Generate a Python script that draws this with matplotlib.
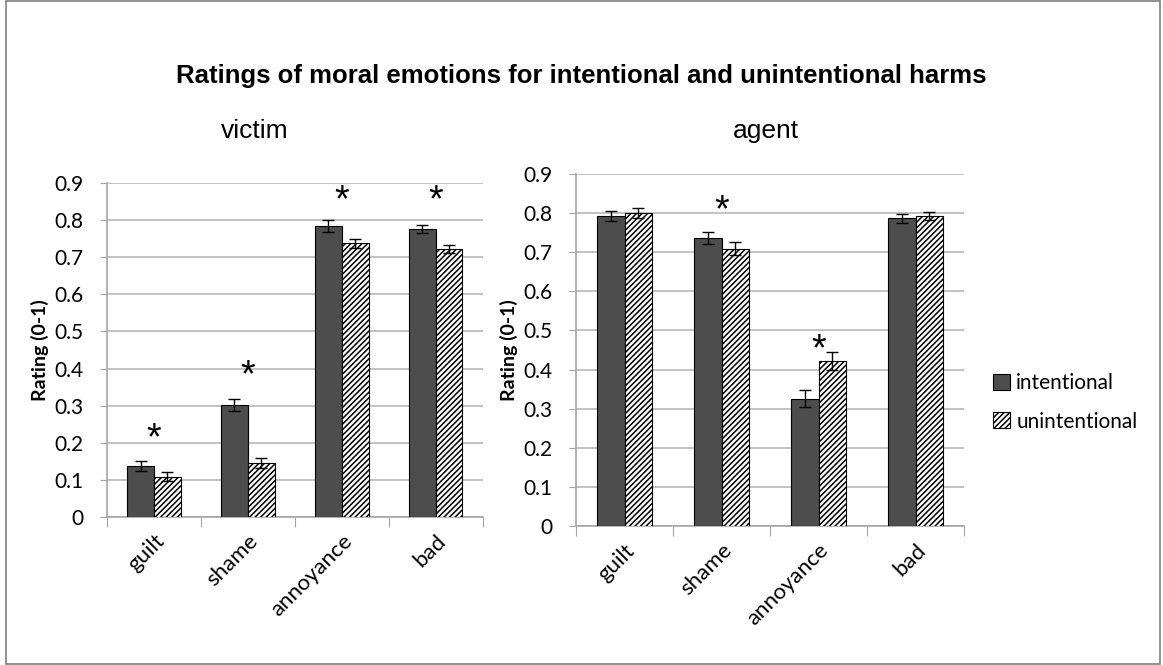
import matplotlib.pyplot as plt
import numpy as np
from matplotlib.patches import Rectangle

categories = ['guilt', 'shame', 'annoyance', 'bad']
series = ['intentional', 'unintentional']

victim_int = [0.138, 0.302, 0.784, 0.776]
victim_unint = [0.109, 0.146, 0.737, 0.722]
victim_int_err = [0.013, 0.017, 0.015, 0.012]
victim_unint_err = [0.012, 0.014, 0.013, 0.012]
victim_star = [0.23, 0.40, 0.87, 0.87]

agent_int = [0.792, 0.737, 0.326, 0.786]
agent_unint = [0.800, 0.709, 0.422, 0.793]
agent_int_err = [0.013, 0.015, 0.022, 0.012]
agent_unint_err = [0.013, 0.017, 0.023, 0.010]
agent_star = [None, 0.825, 0.47, None]

plt.rcParams['font.family'] = ['Lato', 'DejaVu Sans']
plt.rcParams['hatch.linewidth'] = 1.1

fig = plt.figure(figsize=(11.63, 6.65), dpi=100)
fig.patches.append(Rectangle((0.005, 0.002), 0.992, 0.996, transform=fig.transFigure,
                             fill=False, edgecolor='#7f7f7f', lw=1.2))

ax_v = fig.add_axes([0.092, 0.2226, 0.323, 0.5023])
ax_a = fig.add_axes([0.4953, 0.2086, 0.3336, 0.530])

w = 0.285
x = np.arange(len(categories))


def draw(ax, vi, vu, ei, eu, stars):
    b1 = ax.bar(x - w / 2, vi, w, color='#4d4d4d', edgecolor='black', lw=0.8, zorder=3,
                label=series[0])
    b2 = ax.bar(x + w / 2, vu, w, color='white', edgecolor='black', hatch='//////', lw=0.8,
                zorder=3, label=series[1])
    ax.errorbar(x - w / 2, vi, yerr=ei, fmt='none', ecolor='black', elinewidth=1,
                capsize=4, capthick=1, zorder=4)
    ax.errorbar(x + w / 2, vu, yerr=eu, fmt='none', ecolor='black', elinewidth=1,
                capsize=4, capthick=1, zorder=4)
    # significance markers
    for xi, s in zip(x, stars):
        if s is not None:
            ax.text(xi, s, '*', ha='center', va='center', fontsize=27,
                    family='Liberation Sans', zorder=5)
    ax.set_ylim(0, 0.9)
    ax.set_xlim(-0.5, len(categories) - 0.5)
    ax.set_yticks(np.arange(0, 0.91, 0.1))
    ax.set_yticklabels(['0'] + ['%.1f' % v for v in np.arange(0.1, 0.91, 0.1)], fontsize=15)
    ax.yaxis.grid(True, color='#bdbdbd', lw=1.3, zorder=0)
    ax.set_axisbelow(True)
    for sp in ['top', 'right']:
        ax.spines[sp].set_visible(False)
    for sp in ['left', 'bottom']:
        ax.spines[sp].set_color('#a6a6a6')
        ax.spines[sp].set_linewidth(1.2)
    ax.tick_params(axis='y', length=5, color='#a6a6a6', pad=12)
    ax.set_xticks(np.arange(-0.5, len(categories), 1.0))
    ax.set_xticklabels([])
    ax.tick_params(axis='x', length=7, color='#a6a6a6')
    ax.set_xticks(x, minor=True)
    ax.set_xticklabels(categories, minor=True, rotation=45, ha='right',
                       rotation_mode='anchor', fontsize=16)
    ax.tick_params(axis='x', which='minor', length=0, pad=10)
    ax.set_ylabel('Rating (0-1)', fontsize=14, fontweight='bold', labelpad=4)
    return b1, b2


draw(ax_v, victim_int, victim_unint, victim_int_err, victim_unint_err,
     [s - 0.02 for s in victim_star])
b1, b2 = draw(ax_a, agent_int, agent_unint, agent_int_err, agent_unint_err,
              [s - 0.02 if s is not None else None for s in agent_star])

fig.text(0.5, 0.885, 'Ratings of moral emotions for intentional and unintentional harms',
         ha='center', va='center', fontsize=18.5, fontweight='bold',
         family='Liberation Sans')
fig.text(255 / 1163, 1 - 131 / 665, 'victim', ha='center', va='center', fontsize=19,
         family='Liberation Sans')
fig.text(766 / 1163, 1 - 131 / 665, 'agent', ha='center', va='center', fontsize=19,
         family='Liberation Sans')

fig.legend([b1, b2], series, loc='center left', bbox_to_anchor=(0.838, 0.395),
           frameon=False, fontsize=15, handlelength=0.8, handleheight=0.8,
           handletextpad=0.3, labelspacing=0.9)

fig.savefig('out.png', dpi=100)
